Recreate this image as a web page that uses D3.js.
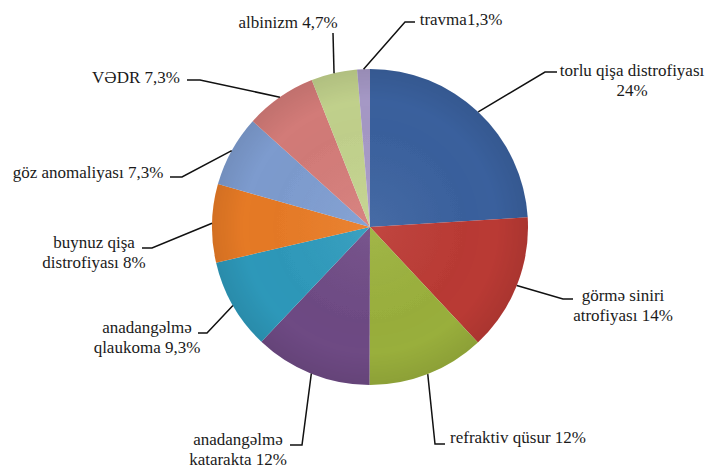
<!DOCTYPE html>
<html>
<head>
<meta charset="utf-8">
<script src="https://cdn.jsdelivr.net/npm/d3@7"></script>
<style>
  html, body { margin: 0; padding: 0; background: #fff; }
  svg { display: block; }
  .leader { fill: none; stroke: #111; stroke-width: 1.5; }
</style>
</head>
<body>
<svg id="chart"></svg>
<script>
const W = 710;
const H = 471;
const CX = 370;
const CY = 227;
const R = 158;
const LINE_H = 20;
const FONT = 'Liberation Serif';

// slices, clockwise from 12 o'clock
const categories = [
  'torlu qişa distrofiyası', 'görmə siniri atrofiyası', 'refraktiv qüsur',
  'anadangəlmə katarakta', 'anadangəlmə qlaukoma', 'buynuz qişa distrofiyası',
  'göz anomaliyası', 'VƏDR', 'albinizm', 'travma'
];
const values = [24, 14, 12, 12, 9.3, 8, 7.3, 7.3, 4.7, 1.3];
const labelText = [
  ['torlu qişa distrofiyası', '24%'],
  ['görmə siniri', 'atrofiyası  14%'],
  ['refraktiv qüsur 12%'],
  ['anadangəlmə', 'katarakta 12%'],
  ['anadangəlmə', 'qlaukoma 9,3%'],
  ['buynuz qişa', 'distrofiyası 8%'],
  ['göz anomaliyası 7,3%'],
  ['VƏDR 7,3%'],
  ['albinizm 4,7%'],
  ['travma1,3%']
];

const colors = ['#3b62a0', '#bd3a36', '#9cb23e', '#6f4b86', '#2f9bbd',
  '#ea7b25', '#7f9ed2', '#d67d7a', '#c4d48e', '#a89bc9'];

// label placement: knee of leader, tail end x, text centre x, first baseline y
const layout = [
  { knee: [545, 72], tail: 557, x: 632, y: 76 },
  { knee: [563, 299], tail: 573, x: 623, y: 301 },
  { knee: [435, 444], tail: 445, x: 518, y: 443 },
  { knee: [302, 445], tail: 290, x: 238, y: 445 },
  { knee: [207, 333], tail: 198, x: 147, y: 333 },
  { knee: [152, 248], tail: 142, x: 94, y: 248 },
  { knee: [182, 177], tail: 170, x: 88, y: 178 },
  { knee: [200, 80], tail: 187, x: 136, y: 83 },
  { knee: [333, 33], tail: 333, x: 288, y: 28 },
  { knee: [405, 22], tail: 415, x: 461, y: 25 }
];

const svg = d3.select('#chart').attr('width', W).attr('height', H);
const defs = svg.append('defs');

const soft = defs.append('filter').attr('id', 'soft')
  .attr('x', '-10%').attr('y', '-10%').attr('width', '120%').attr('height', '120%');
soft.append('feGaussianBlur').attr('stdDeviation', 0.7);

const shade = defs.append('radialGradient').attr('id', 'shade');
shade.append('stop').attr('offset', '0%').attr('stop-color', '#fff').attr('stop-opacity', 0.06);
shade.append('stop').attr('offset', '80%').attr('stop-color', '#000').attr('stop-opacity', 0.02);
shade.append('stop').attr('offset', '100%').attr('stop-color', '#000').attr('stop-opacity', 0.1);

const pie = d3.pie().sort(null).value(d => d)(values);
const arc = d3.arc().innerRadius(0).outerRadius(R);
const edge = d3.arc().innerRadius(R).outerRadius(R);

const g = svg.append('g').attr('transform', `translate(${CX},${CY})`);

g.append('g').attr('filter', 'url(#soft)')
  .selectAll('path')
  .data(pie)
  .enter()
  .append('path')
  .attr('d', arc)
  .attr('fill', (d, i) => colors[i]);

g.append('circle').attr('r', R).attr('fill', 'url(#shade)').attr('filter', 'url(#soft)');

// leaders
pie.forEach((d, i) => {
  const [ex, ey] = edge.centroid(d);
  const L = layout[i];
  const pts = [[CX + ex, CY + ey], L.knee, [L.tail, L.knee[1]]];
  svg.append('path').attr('class', 'leader').attr('d', d3.line()(pts));
});

// labels
labelText.forEach((lines, i) => {
  const L = layout[i];
  const t = svg.append('text')
    .attr('font-family', FONT)
    .attr('font-size', 17)
    .attr('fill', '#1a1a1a')
    .attr('text-anchor', 'middle');
  lines.forEach((s, j) => {
    t.append('tspan').attr('x', L.x).attr('y', L.y + j * LINE_H).text(s);
  });
});
</script>
</body>
</html>
